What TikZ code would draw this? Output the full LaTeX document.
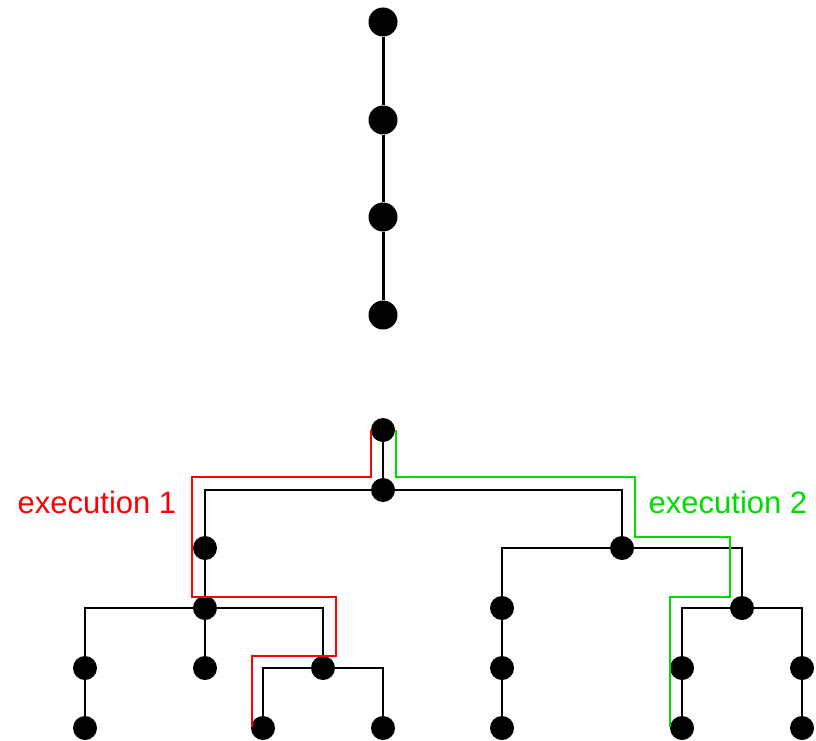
\documentclass[tikz,border=0pt]{standalone}
\usepackage{fontspec}
\setmainfont{Liberation Sans}
\definecolor{exgreen}{RGB}{0,220,0}
\tikzset{
  bigdot/.style={circle,fill=black,inner sep=0pt,minimum size=29pt},
  dot/.style={circle,fill=black,inner sep=0pt,minimum size=24pt},
  edge/.style={line width=2pt},
  run/.style={line width=1.6pt},
  runlabel/.style={font=\fontsize{31}{37}\selectfont}
}
\begin{document}
\begin{tikzpicture}[x=1pt,y=-1pt]
  \useasboundingbox (0,0) rectangle (816,741);
  % sequential chain
  \node[bigdot] (s1) at (383,22) {};
  \node[bigdot] (s2) at (383,120) {};
  \node[bigdot] (s3) at (383,217) {};
  \node[bigdot] (s4) at (383,315) {};
  \draw[line width=3pt] (s1) -- (s2) -- (s3) -- (s4);
  % branching tree
  \node[dot] (r) at (383,430) {};
  \node[dot] (n1) at (383,490) {};
  \node[dot] (a) at (205,548) {};
  \node[dot] (b) at (622,548) {};
  \node[dot] (c) at (205,608) {};
  \node[dot] (d) at (85,668) {};
  \node[dot] (e) at (205,668) {};
  \node[dot] (f) at (323,668) {};
  \node[dot] (g) at (85,728) {};
  \node[dot] (h) at (263,728) {};
  \node[dot] (i) at (383,728) {};
  \node[dot] (k) at (502,608) {};
  \node[dot] (l) at (502,668) {};
  \node[dot] (m) at (502,728) {};
  \node[dot] (j) at (742,608) {};
  \node[dot] (n) at (682,668) {};
  \node[dot] (o) at (802,668) {};
  \node[dot] (p) at (682,728) {};
  \node[dot] (q) at (802,728) {};
  \draw[edge] (r) -- (n1);
  \draw[edge] (n1) -| (a);
  \draw[edge] (n1) -| (b);
  \draw[edge] (a) -- (c);
  \draw[edge] (c) -| (d);
  \draw[edge] (c) -- (e);
  \draw[edge] (c) -| (f);
  \draw[edge] (d) -- (g);
  \draw[edge] (f) -| (h);
  \draw[edge] (f) -| (i);
  \draw[edge] (b) -| (k);
  \draw[edge] (k) -- (l) -- (m);
  \draw[edge] (b) -| (j);
  \draw[edge] (j) -| (n);
  \draw[edge] (j) -| (o);
  \draw[edge] (n) -- (p);
  \draw[edge] (o) -- (q);
  % the two runs
  \draw[run,red] (371,430) |- (192,477) |- (336,597) |- (252,656) -- (252,727);
  \draw[run,exgreen] (396,430) |- (635,477) |- (730,537) |- (670,597) -- (670,727);
  \node[runlabel,text=red] (ex1) at (97,502) {execution 1};
  \node[runlabel,text=exgreen] (ex2) at (728,502) {execution 2};
\end{tikzpicture}
\end{document}
